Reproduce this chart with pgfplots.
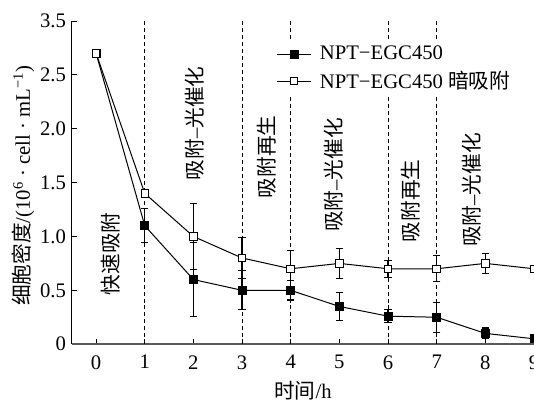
\documentclass[border=0pt]{standalone}
\usepackage{fontspec}
\setmainfont{Liberation Serif}
\newfontfamily\cjk{Noto Sans CJK SC}
\usepackage{pgfplots}
\usepackage{pgfplotstable}
\pgfplotsset{compat=1.18}
\pgfplotstableread{
x y e
0 2.7 0
1 1.1 0.16
2 0.6 0.34
3 0.5 0.18
4 0.5 0.09
5 0.35 0.13
6 0.26 0.06
7 0.25 0.14
8 0.1 0.05
9 0.05 0
}\filled
\pgfplotstableread{
x y e
0 2.7 0
1 1.4 0
2 1.0 0.31
3 0.8 0.19
4 0.7 0.17
5 0.75 0.14
6 0.7 0.08
7 0.7 0.12
8 0.75 0.09
9 0.7 0
}\open
\newcommand\fs{\fontsize{15.5}{18}\selectfont}
\begin{document}
\fs
\begin{tikzpicture}
\begin{axis}[
  at={(0,0)}, anchor=south west,
  scale only axis, width=346.5pt, height=242.25pt,
  xmin=-0.5, xmax=9, ymin=0, ymax=3,
  axis lines=left, axis line style={-},
  x axis line style={line width=1.3pt, black!65},
  y axis line style={line width=0.7pt, black},
  tick align=inside,
  xtick={0,1,2,3,4,5,6,7,8,9},
  xticklabels={0,1,2,3,4,5,6,7,8,9},
  ytick={0,0.5,1,1.5,2,2.5,3},
  yticklabels={0,0.5,1.0,1.5,2.0,2.5,3.5},
  major tick length=4pt,
  x tick style={black, line width=0.7pt},
  y tick style={black, line width=0.7pt},
  tick label style={font=\fs},
  xticklabel style={yshift=-3pt},
  yticklabel style={xshift=1pt},
  xlabel={{\cjk 时间}/h},
  xlabel style={at={(axis description cs:0.5,-0.143)}, anchor=center, font=\fs},
  ylabel={{\cjk 细胞密度}/(10\textsuperscript{6} · cell · mL\textsuperscript{−1})},
  ylabel style={at={(axis description cs:-0.105,0.49)}, anchor=center, font=\fs},
  legend style={draw=none, fill=white, at={(axis description cs:0.436,0.94)}, anchor=north west,
    font=\fs, row sep=2pt, inner sep=2pt},
  legend cell align=left,
  legend image code/.code={\draw[mark repeat=2,mark phase=2,#1] plot coordinates {(0pt,0pt) (13pt,0pt) (26pt,0pt)}; \path (30pt,0pt);},
  error bars/error bar style={line width=0.9pt, black},
  error bars/error mark options={rotate=90, mark size=2.8pt, line width=0.8pt, black},
]
\draw[black, line width=0.6pt, dash pattern=on 3pt off 2.2pt] (axis cs:1,0) -- (axis cs:1,3);
\draw[black, line width=0.6pt, dash pattern=on 3pt off 2.2pt] (axis cs:3,0) -- (axis cs:3,3);
\draw[black, line width=0.5pt, dash pattern=on 3pt off 2.2pt] (axis cs:4,0) -- (axis cs:4,3);
\draw[black, line width=0.6pt, dash pattern=on 3pt off 2.2pt] (axis cs:6,0) -- (axis cs:6,3);
\draw[black, line width=0.6pt, dash pattern=on 3pt off 2.2pt] (axis cs:7,0) -- (axis cs:7,3);
\addplot[black, line width=0.75pt, mark=square*, mark size=3pt, mark options={fill=black, solid},
  error bars/.cd, y dir=both, y explicit] table[x=x, y=y, y error=e] {\filled};
\addlegendentry{NPT−EGC450}
\addplot[black, line width=0.75pt, mark=square*, mark size=2.8pt, mark options={fill=white, solid},
  error bars/.cd, y dir=both, y explicit] table[x=x, y=y, y error=e] {\open};
\addlegendentry{NPT−EGC450 {\cjk 暗吸附}}
\node[rotate=90, inner sep=0pt, font=\fs] at (axis cs:0.30,0.84) {{\cjk 快速吸附}};
\node[rotate=90, inner sep=0pt, font=\fs] at (axis cs:2.02,2.05) {{\cjk 吸附}–{\cjk 光催化}};
\node[rotate=90, inner sep=0pt, font=\fs] at (axis cs:3.50,1.74) {{\cjk 吸附再生}};
\node[rotate=90, inner sep=0pt, font=\fs] at (axis cs:4.89,1.57) {{\cjk 吸附}–{\cjk 光催化}};
\node[rotate=90, inner sep=0pt, font=\fs] at (axis cs:6.47,1.33) {{\cjk 吸附再生}};
\node[rotate=90, inner sep=0pt, font=\fs] at (axis cs:7.72,1.43) {{\cjk 吸附}–{\cjk 光催化}};
\end{axis}
\pgfresetboundingbox
\path[use as bounding box] (-53.8pt,-44.25pt) rectangle (346.5pt,258pt);
\end{tikzpicture}
\end{document}
